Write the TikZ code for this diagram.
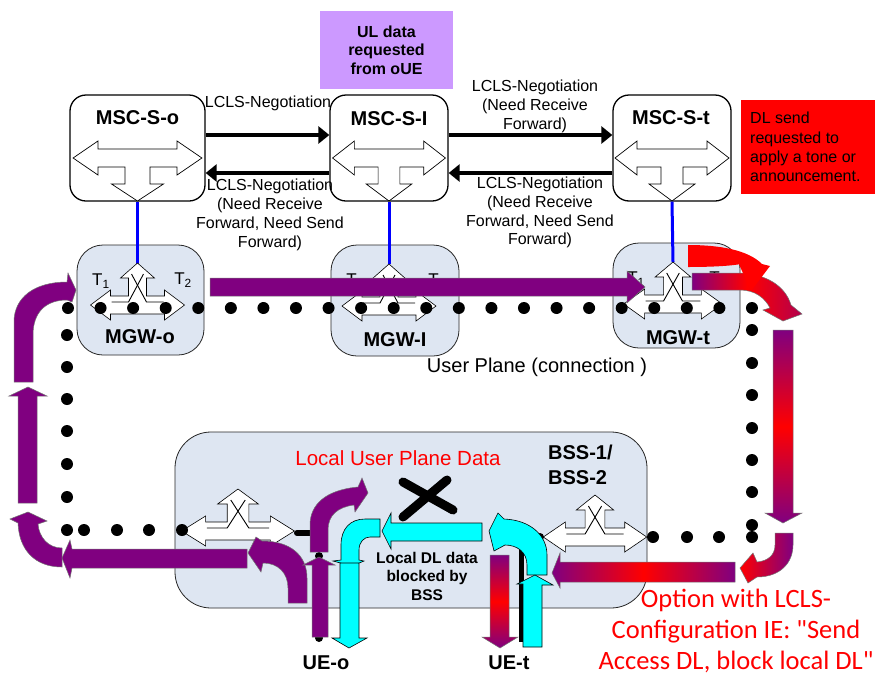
\documentclass[tikz,border=0pt]{standalone}
\usepackage{fontspec}
\setmainfont{Liberation Sans}
\newfontfamily\calib{Carlito}
\usetikzlibrary{arrows.meta}
\definecolor{purp}{RGB}{128,0,128}
\definecolor{ulpurple}{RGB}{204,153,255}
\definecolor{mgwfill}{RGB}{222,230,242}
\definecolor{cyanc}{RGB}{0,255,255}
\definecolor{bluelnc}{RGB}{0,0,255}
\definecolor{redc}{RGB}{255,0,0}

% three-way arrow inside MSC boxes: centre x, centre y, xscale
\newcommand\mscshape[3]{%
\begin{scope}[shift={(#1,#2)},xscale=#3]
\draw[fill=white,line width=0.7pt] (-57,0) -- (-35,-17) -- (-35,-9) -- (35,-9) -- (35,-17) -- (57,0) -- (35,17) -- (35,9) -- (11,9) -- (11,26) -- (23,26) -- (0,43) -- (-23,26) -- (-11,26) -- (-11,9) -- (-35,9) -- (-35,17) -- cycle;
\end{scope}}
% switch shape inside MGW / BSS: centre x, centre y, xscale
\newcommand\mgwshape[3]{%
\begin{scope}[shift={(#1,#2)},xscale=#3]
\draw[fill=white,line width=0.6pt] (-47,0) -- (-27,-15) -- (-27,-9) -- (-9,-9) -- (-9,-27) -- (-17,-27) -- (0,-42) -- (17,-27) -- (9,-27) -- (9,-9) -- (27,-9) -- (27,-15) -- (47,0) -- (27,15) -- (27,9) -- (-27,9) -- (-27,15) -- cycle;
\draw[line width=0.9pt] (-6,-31) -- (9,-3) -- (26,-3);
\draw[line width=0.9pt] (6,-31) -- (-9,-3) -- (-26,-3);
\end{scope}}

\begin{document}
\begin{tikzpicture}[x=1pt,y=-1pt,
  txt/.style={inner sep=0pt, align=center},
  lbl/.style={txt, font=\fontsize{16}{18.8}\selectfont},
  bigb/.style={txt, font=\bfseries\fontsize{20}{24}\selectfont},
  msc/.style={draw, line width=1.3pt, rounded corners=16pt, fill=white, minimum height=106pt, inner sep=0pt},
  mgw/.style={draw=black!85, line width=0.8pt, rounded corners=26pt, fill=mgwfill, inner sep=0pt},
  lcls/.style={line width=3.5pt, -{Triangle[length=11pt,width=17pt]}},
  bline/.style={draw=bluelnc, line width=3pt},
  pa/.style={fill=purp, draw=black!55, line width=0.5pt},
  ca/.style={fill=cyanc, draw=black, line width=0.6pt},
  ga/.style={draw=black!55, line width=0.5pt},
  tlab/.style={txt, font=\fontsize{17}{20}\selectfont}
]
\useasboundingbox (0,0) rectangle (875,675);
\fill[white] (0,0) rectangle (875,675);

% ---------- top boxes ----------
\node[fill=ulpurple, minimum width=133pt, minimum height=78pt, inner sep=0pt, align=center,
      font=\bfseries\fontsize{16}{18.6}\selectfont] (ulbox) at (386.5,50) {UL data\\requested\\from oUE};
\node[fill=redc, minimum width=134pt, minimum height=94pt, inner sep=0pt] (dlbox) at (808,147) {};
\node[txt, align=left, anchor=west, font=\fontsize{16}{19.3}\selectfont] (dltxt) at (750,147)
  {DL send\\requested to\\apply a tone or\\announcement.};

\node[msc, minimum width=135pt] (msco) at (137.5,148) {};
\node[msc, minimum width=118pt] (msci) at (389,148) {};
\node[msc, minimum width=118pt] (msct) at (672,148) {};
\mscshape{137.5}{158}{1.13}
\mscshape{389}{158}{0.99}
\mscshape{672}{158}{1.0}
\node[bigb] (tmsco) at (137.5,118) {MSC-S-o};
\node[bigb] (tmsci) at (389,119) {MSC-S-I};
\node[bigb] (tmsct) at (671,118) {MSC-S-t};

% LCLS negotiation
\draw[lcls] ([yshift=13pt]msco.east) -- ([yshift=13pt]msci.west);
\draw[lcls] ([yshift=-25pt]msci.west) -- ([yshift=-25pt]msco.east);
\draw[lcls] ([yshift=13pt]msci.east) -- ([yshift=13pt]msct.west);
\draw[lcls] ([yshift=-25pt]msct.west) -- ([yshift=-25pt]msci.east);
\node[lbl] (n1) at (268,103) {LCLS-Negotiation};
\node[lbl] (n2) at (270,215) {LCLS-Negotiation\\(Need Receive\\Forward, Need Send\\Forward)};
\node[lbl] (n3) at (535,106.5) {LCLS-Negotiation\\(Need Receive\\Forward)};
\node[lbl] (n4) at (540,212.5) {LCLS-Negotiation\\(Need Receive\\Forward, Need Send\\Forward)};

% ---------- MGW and BSS boxes ----------
\node[mgw, minimum width=127pt, minimum height=110pt] (mgwo) at (140.5,300) {};
\node[mgw, minimum width=128pt, minimum height=111pt] (mgwi) at (395,300.5) {};
\node[mgw, minimum width=127pt, minimum height=105pt] (mgwt) at (676.5,295.5) {};
\node[mgw, rounded corners=36pt, minimum width=472pt, minimum height=176pt] (bss) at (411,520) {};

% signalling lines MSC -> MGW
\coordinate (tipo) at (137.5,264);
\coordinate (tipi) at (389,264);
\coordinate (tipt) at (673,262);
\draw[bline] (msco.south) -- (tipo);
\draw[bline] (msci.south) -- (tipi);
\draw[bline] (msct.south) -- (tipt);

% T labels
\node[tlab] (t1o) at (101,281) {T\textsubscript{1}};
\node[tlab] (t2o) at (183,280) {T\textsubscript{2}};
\node[tlab] (t1i) at (355,281) {T\textsubscript{1}};
\node[tlab] (t2i) at (437,281) {T\textsubscript{2}};
\node[tlab] (t1t) at (636,279) {T\textsubscript{1}};
\node[tlab] (t2t) at (718,279) {T\textsubscript{2}};

% switch shapes
\mgwshape{137.5}{305}{1}
\mgwshape{389}{306}{1}
\mgwshape{673}{304}{1.05}
\mgwshape{238}{531}{1.2}
\mgwshape{595}{537}{1.1}

% ---------- user plane dotted path ----------
\foreach \i in {0,...,21} \fill ({68+\i*32.57},308) circle (6pt);
\foreach \yy in {335,367,399,431,464,497,530} \fill (67,\yy) circle (6pt);
\foreach \xx in {84,117,149,182} \fill (\xx,530) circle (6pt);
\foreach \yy in {330,363,395,428,460,492,525,537} \fill (752,\yy) circle (6pt);
\foreach \xx in {653,687,719} \fill (\xx,537) circle (6pt);
\fill (540,537) circle (4pt);

\node[txt, font=\fontsize{20}{23}\selectfont] (uplane) at (537,367) {User Plane (connection )};

% access connectors
\draw[line width=6pt, line cap=round] (297,533) -- (310,533);
\fill (319,638) circle (4pt);
\fill (319,556) circle (4pt);
\draw[line width=5pt] (521,540) -- (521,642);

% ---------- purple user-plane arrows ----------
\path[pa] (210,278) -- (627,278) -- (627,271) -- (645,287) -- (627,303) -- (627,296) -- (210,296) -- cycle;
\path[pa] (14,382) -- (14,322) .. controls (14,297) and (35,282) .. (67,282) -- (68,273) -- (76,290) -- (72,302) -- (67,300) .. controls (45,300) and (33,313) .. (33,335) -- (33,382) -- cycle;
\path[pa] (18,503) -- (18,396) -- (9,396) -- (28,387) -- (47,396) -- (37,396) -- (37,503) -- cycle;
\path[pa] (62,567) .. controls (35,567) and (19,550) .. (18,523) -- (10,519) -- (28,512) -- (47,521) -- (38,524) .. controls (39,537) and (48,548) .. (62,548) -- cycle;
\path[pa] (247,549) -- (72,549) -- (70,540) -- (62,558) -- (70,578) -- (72,568) -- (247,568) -- cycle;
\path[pa] (307,603) -- (307,578) .. controls (307,555) and (290,541) .. (262,541) -- (256,537) -- (248,553) -- (261,572) -- (263,563) .. controls (278,563) and (288,573) .. (288,588) -- (288,603) -- cycle;
\path[pa] (312,637) -- (312,565) -- (303,565) -- (319,557) -- (335,565) -- (328,565) -- (328,637) -- cycle;
\path[pa] (310,552) -- (310,525) .. controls (310,505) and (325,490) .. (358,487) -- (362,478) -- (368,493) -- (355,512) -- (354,505) .. controls (338,507) and (328,515) .. (328,530) -- (328,552) -- cycle;

% ---------- gradient arrows (DL send) ----------
\path[ga, left color=purp, right color=purp!60!redc, middle color=redc] (692,273) -- (740,273) .. controls (765,274) and (785,285) .. (791,305) -- (802,314) -- (783,321) -- (763,310) -- (770,308) .. controls (765,298) and (755,290) .. (740,290) -- (692,290) -- cycle;
\path[fill=redc] (688,245) .. controls (720,245) and (748,250) .. (762,264) -- (770,266) -- (751,291) -- (738,262) -- (745,263) .. controls (735,266) and (710,267) .. (688,267) -- cycle;
\path[ga, top color=purp, bottom color=purp, middle color=redc] (773,330) -- (773,513) -- (765,513) -- (783,523) -- (802,513) -- (793,513) -- (793,330) -- cycle;
\path[ga, left color=redc, right color=purp] (775,533) -- (775,545) .. controls (775,555) and (768,561) .. (757,562) -- (753,553) -- (740,568) -- (748,583) -- (757,577) .. controls (780,577) and (793,563) .. (793,545) -- (793,533) -- cycle;
\path[ga, left color=purp, right color=purp, middle color=redc] (735,562) -- (560,562) -- (560,553) -- (552,573) -- (560,588) -- (560,582) -- (735,582) -- cycle;
\path[ga, top color=purp, bottom color=purp, middle color=redc] (490,555) -- (490,637) -- (482,637) -- (500,648) -- (518,637) -- (509,637) -- (509,555) -- cycle;

% ---------- cyan local arrows ----------
\path[ca] (482,523) -- (391,523) -- (391,513) -- (382,531) -- (391,549) -- (391,541) -- (482,541) -- cycle;
\path[ca] (380,519) -- (365,519) .. controls (350,519) and (341,529) .. (341,545) -- (341,560) -- (333,561) -- (352,566) -- (364,561) -- (359,560) -- (359,550) .. controls (359,542) and (364,537) .. (370,537) -- (380,537) -- cycle;
\path[ca] (340,563) -- (340,638) -- (332,638) -- (349,648) -- (367,638) -- (359,638) -- (359,563) -- cycle;
\path[ca] (547,575) -- (547,555) .. controls (547,535) and (530,520) .. (504,519) -- (498,513) -- (489,531) -- (494,551) -- (505,545) .. controls (517,545) and (527,552) .. (527,565) -- (527,575) -- cycle;
\path[ca] (523,647) -- (523,584) -- (517,584) -- (535,575) -- (553,585) -- (542,585) -- (542,647) -- cycle;

% blocked mark
\draw[line width=9pt, line cap=round] (403,517) -- (447,480);
\draw[line width=9pt, line cap=round] (403,482) -- (453,510);

% ---------- labels ----------
\node[bigb] (lmgwo) at (140,337) {MGW-o};
\node[bigb] (lmgwi) at (395,340) {MGW-I};
\node[bigb] (lmgwt) at (678,338) {MGW-t};
\node[txt, text=redc, font=\fontsize{20.5}{24}\selectfont] (lupd) at (398,458) {Local User Plane Data};
\node[bigb, align=left, anchor=north west, font=\bfseries\fontsize{20}{25}\selectfont] (lbss) at (548,445) {BSS-1/\\BSS-2};
\node[txt, font=\bfseries\fontsize{15.5}{18.5}\selectfont] (ldl) at (427,576) {Local DL data\\blocked by\\BSS};
\node[bigb] (ueo) at (326,663) {UE-o};
\node[bigb] (uet) at (509,663) {UE-t};
\node[txt, text=redc, font=\calib\fontsize{26.5}{31}\selectfont] (opt) at (736,631)
  {Option with LCLS-\\Configuration IE: "Send\\Access DL, block local DL"};
\end{tikzpicture}
\end{document}
